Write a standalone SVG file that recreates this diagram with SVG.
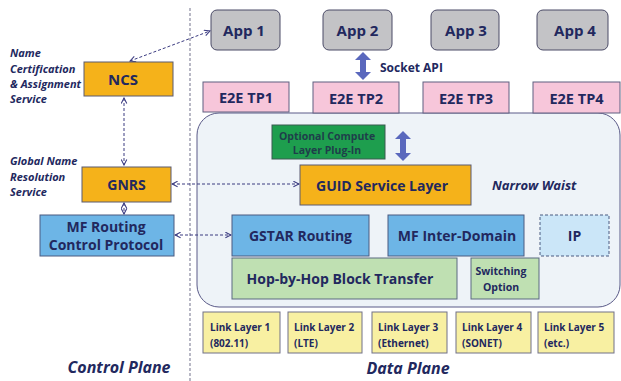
<svg xmlns="http://www.w3.org/2000/svg" width="621" height="381" viewBox="0 0 621 381">
<defs>
<marker id="oa" viewBox="0 0 10 10" refX="9" refY="5" markerWidth="7" markerHeight="7" orient="auto-start-reverse" markerUnits="userSpaceOnUse">
<polyline points="1,1 9,5 1,9" fill="none" stroke="#3a3a80" stroke-width="1.5"/>
</marker>
</defs>
<style>
text{font-family:"Open Sans","Liberation Sans",sans-serif;font-weight:bold;fill:#22285e}
.c{text-anchor:middle}
.it{font-style:italic}
.app{fill:#c3c3c6;stroke:#4a4a66;stroke-width:1}
.tp{fill:#f7c6da;stroke:#5f5f80;stroke-width:1}
.or{fill:#f5b21a;stroke:#5a5a70;stroke-width:1}
.bl{fill:#6db5e6;stroke:#4a5a80;stroke-width:1}
.gr{fill:#bfe0b2;stroke:#5a6a80;stroke-width:1}
.ll{fill:#f8f0a2;stroke:#707088;stroke-width:1}
.dl{fill:none;stroke:#3a3a80;stroke-width:1;stroke-dasharray:3,2;marker-start:url(#oa);marker-end:url(#oa)}
.big{fill:#5a68bd}
</style>
<rect width="621" height="381" fill="#ffffff"/>
<line x1="190" y1="8" x2="190" y2="381" stroke="#8a8aa0" stroke-width="1.2" stroke-dasharray="3,2"/>
<!-- narrow waist container -->
<rect id="waist" x="197" y="113" width="423" height="194" rx="22" fill="#eef3f8" stroke="#5a5a88" stroke-width="1"/>
<!-- left labels -->
<g id="labels">
<text class="it" x="10" y="57" font-size="11">Name</text>
<text class="it" x="10" y="73" font-size="11">Certification</text>
<text class="it" x="10" y="88" font-size="11">&amp; Assignment</text>
<text class="it" x="10" y="103" font-size="11">Service</text>
<text class="it" x="10" y="165" font-size="11">Global Name</text>
<text class="it" x="10" y="181" font-size="11">Resolution</text>
<text class="it" x="10" y="196" font-size="11">Service</text>
<text class="it c" x="119" y="373" font-size="16">Control Plane</text>
<text class="it c" x="408" y="374" font-size="16">Data Plane</text>
<text class="it" x="492" y="190" font-size="13">Narrow Waist</text>
<text x="380" y="72" font-size="12">Socket API</text>
</g>
<g id="connectors">
<line class="dl" x1="130" y1="61" x2="210" y2="31"/>
<line class="dl" x1="124" y1="98" x2="124" y2="165"/>
<line class="dl" x1="124" y1="203" x2="124" y2="214"/>
<line class="dl" x1="172" y1="184" x2="299" y2="184"/>
<line class="dl" x1="175" y1="235" x2="231" y2="235"/>
<polygon class="big" points="363,52 371,60 366,60 366,72 371,72 363,80 355,72 360,72 360,60 355,60"/>
<polygon class="big" points="403,131 411,139 406,139 406,153 411,153 403,161 395,153 400,153 400,139 395,139"/>
</g>
<g id="ncs"><rect class="or" x="84" y="62" width="89" height="34"/><text class="c" x="123" y="85" font-size="15">NCS</text></g>
<g id="gnrs"><rect class="or" x="82" y="167" width="89" height="35"/><text class="c" x="126.5" y="190" font-size="14">GNRS</text></g>
<g id="mfrcp"><rect class="bl" x="40" y="215" width="134" height="41"/><text class="c" x="106" y="232" font-size="14">MF Routing</text><text class="c" x="106" y="250" font-size="14">Control Protocol</text></g>
<g id="app1"><rect class="app" x="211" y="10" width="69" height="40" rx="6"/><text class="c" x="244" y="36" font-size="15">App 1</text></g>
<g id="app2"><rect class="app" x="323" y="10" width="69" height="40" rx="6"/><text class="c" x="357.5" y="36" font-size="15">App 2</text></g>
<g id="app3"><rect class="app" x="431" y="10" width="68" height="40" rx="6"/><text class="c" x="466" y="36" font-size="15">App 3</text></g>
<g id="app4"><rect class="app" x="537" y="10" width="71" height="40" rx="6"/><text class="c" x="575" y="36" font-size="15">App 4</text></g>
<g id="tp1"><rect class="tp" x="203" y="82" width="86" height="30"/><text class="c" x="246" y="103" font-size="14.5">E2E TP1</text></g>
<g id="tp2"><rect class="tp" x="313" y="82" width="86" height="31"/><text class="c" x="356" y="104" font-size="14.5">E2E TP2</text></g>
<g id="tp3"><rect class="tp" x="423" y="82" width="86" height="31"/><text class="c" x="466" y="104" font-size="14.5">E2E TP3</text></g>
<g id="tp4"><rect class="tp" x="533" y="82" width="87" height="31"/><text class="c" x="576.5" y="104" font-size="14.5">E2E TP4</text></g>
<g id="compute"><rect x="272" y="125" width="113" height="34" fill="#1e9e4e" stroke="#3a5a50" stroke-width="1"/><text class="c" x="327" y="139.5" font-size="10.5" style="fill:#1e3e4a">Optional Compute</text><text class="c" x="327" y="154" font-size="10.5" style="fill:#1e3e4a">Layer Plug-In</text></g>
<g id="guid"><rect class="or" x="300" y="165" width="171" height="40"/><text class="c" x="382" y="191" font-size="14">GUID Service Layer</text></g>
<g id="gstar"><rect class="bl" x="232" y="215" width="137" height="41"/><text class="c" x="300.5" y="241" font-size="14">GSTAR Routing</text></g>
<g id="mfid"><rect class="bl" x="388" y="215" width="136" height="41"/><text class="c" x="457" y="241" font-size="14">MF Inter-Domain</text></g>
<g id="ip"><rect x="540" y="215" width="69" height="41" fill="#cbe6f8" stroke="#4a5a80" stroke-width="1" stroke-dasharray="3,2"/><text class="c" x="574.5" y="241" font-size="14">IP</text></g>
<g id="hop"><rect class="gr" x="232" y="258" width="225" height="41"/><text class="c" x="340" y="284" font-size="14">Hop-by-Hop Block Transfer</text></g>
<g id="switch"><rect class="gr" x="471" y="258" width="68" height="41"/><text class="c" x="501" y="275" font-size="10.5">Switching</text><text class="c" x="501" y="291" font-size="10.5">Option</text></g>
<g id="ll1"><rect class="ll" x="203" y="312" width="77" height="41"/><text x="210" y="331" font-size="10">Link Layer 1</text><text x="210" y="347" font-size="10">(802.11)</text></g>
<g id="ll2"><rect class="ll" x="288" y="312" width="74" height="41"/><text x="294" y="331" font-size="10">Link Layer 2</text><text x="294" y="347" font-size="10">(LTE)</text></g>
<g id="ll3"><rect class="ll" x="372" y="312" width="75" height="41"/><text x="378" y="331" font-size="10">Link Layer 3</text><text x="378" y="347" font-size="10">(Ethernet)</text></g>
<g id="ll4"><rect class="ll" x="456" y="312" width="75" height="41"/><text x="462" y="331" font-size="10">Link Layer 4</text><text x="462" y="347" font-size="10">(SONET)</text></g>
<g id="ll5"><rect class="ll" x="538" y="312" width="76" height="41"/><text x="544" y="331" font-size="10">Link Layer 5</text><text x="544" y="347" font-size="10">(etc.)</text></g>
</svg>
